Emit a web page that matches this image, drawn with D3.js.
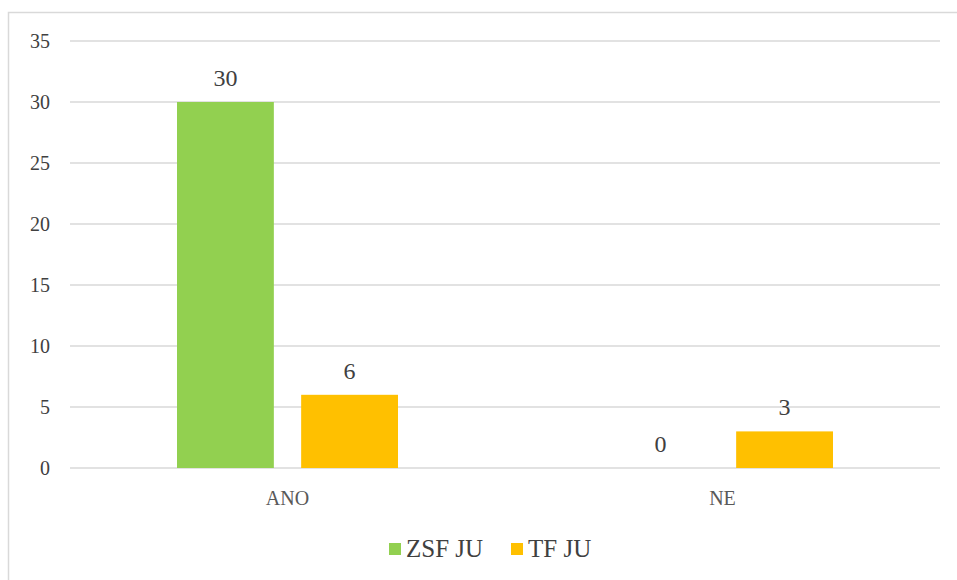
<!DOCTYPE html>
<html>
<head>
<meta charset="utf-8">
<script src="https://cdn.jsdelivr.net/npm/d3@7.9.0/dist/d3.min.js"></script>
<style>
  body { margin: 0; background: #fff; font-family: "Liberation Serif", serif; }
  #chart text { font-family: "Liberation Serif", serif !important; }
</style>
</head>
<body>
<svg id="chart" width="957" height="580" font-family="Liberation Serif"></svg>
<script>
// Chart data
const categories = ['ANO', 'NE'];
const seriesNames = ['ZSF JU', 'TF JU'];
const zsfValues = [30, 0];
const tfValues = [6, 3];
const yTicks = [0, 5, 10, 15, 20, 25, 30, 35];
const colors = ['#92D050', '#FFC000'];

const FONT = 'Liberation Serif';
const svg = d3.select('#chart').style('font-family', FONT);
const margin = { left: 70, right: 17, top: 41, bottom: 112 };
const width = 957, height = 580;

// outer frame (only left and top edges are visible in the crop)
svg.append('path')
  .attr('d', `M8.5,580 V12.5 H957`)
  .attr('fill', 'none')
  .attr('stroke', '#d9d9d9')
  .attr('stroke-width', 1.5);

const x = d3.scaleBand()
  .domain(categories)
  .range([margin.left, width - margin.right]);

const xInner = d3.scaleBand()
  .domain(seriesNames)
  .range([0, 221])
  .paddingInner(0.22);

const y = d3.scaleLinear()
  .domain([0, 35])
  .range([height - margin.bottom, margin.top]);

// gridlines
svg.append('g')
  .selectAll('line')
  .data(yTicks)
  .join('line')
  .attr('x1', margin.left)
  .attr('x2', width - margin.right)
  .attr('y1', d => y(d))
  .attr('y2', d => y(d))
  .attr('stroke', '#d9d9d9')
  .attr('stroke-width', 1.5);

// y tick labels
svg.append('g')
  .selectAll('text')
  .data(yTicks)
  .join('text')
  .attr('x', 50)
  .attr('y', d => y(d))
  .attr('dy', '0.35em')
  .attr('text-anchor', 'end')
  .style('font-family', FONT)
  .attr('font-size', 20)
  .attr('fill', '#404040')
  .text(d => d);

const data = categories.map((c, i) => ({
  category: c,
  values: [zsfValues[i], tfValues[i]]
}));

const groups = svg.append('g')
  .selectAll('g')
  .data(data)
  .join('g')
  .attr('transform', d => `translate(${x(d.category) + x.bandwidth() / 2 - 110.5},0)`);

groups.selectAll('rect')
  .data(d => d.values.map((v, i) => ({ name: seriesNames[i], value: v, color: colors[i] })))
  .join('rect')
  .attr('x', d => xInner(d.name))
  .attr('width', xInner.bandwidth())
  .attr('y', d => y(d.value))
  .attr('height', d => y(0) - y(d.value))
  .attr('fill', d => d.color);

// value labels
groups.selectAll('text.val')
  .data(d => d.values.map((v, i) => ({ name: seriesNames[i], value: v })))
  .join('text')
  .attr('class', 'val')
  .attr('x', d => xInner(d.name) + xInner.bandwidth() / 2)
  .attr('y', d => y(d.value) - 16)
  .attr('text-anchor', 'middle')
  .style('font-family', FONT)
  .attr('font-size', 24)
  .attr('fill', '#404040')
  .text(d => d.value);

// category labels
svg.append('g')
  .selectAll('text')
  .data(categories)
  .join('text')
  .attr('x', d => x(d) + x.bandwidth() / 2)
  .attr('y', 505)
  .attr('text-anchor', 'middle')
  .style('font-family', FONT)
  .attr('font-size', 20)
  .attr('fill', '#595959')
  .text(d => d);

// legend
const legendItems = [
  { name: seriesNames[0], color: colors[0], x: 389 },
  { name: seriesNames[1], color: colors[1], x: 511 }
];
const legend = svg.append('g')
  .selectAll('g')
  .data(legendItems)
  .join('g')
  .attr('transform', d => `translate(${d.x},543)`);

legend.append('rect')
  .attr('width', 12)
  .attr('height', 12)
  .attr('fill', d => d.color);

legend.append('text')
  .attr('x', 17)
  .attr('y', 14)
  .style('font-family', FONT)
  .attr('font-size', 25)
  .attr('fill', '#404040')
  .text(d => d.name);
</script>
</body>
</html>
